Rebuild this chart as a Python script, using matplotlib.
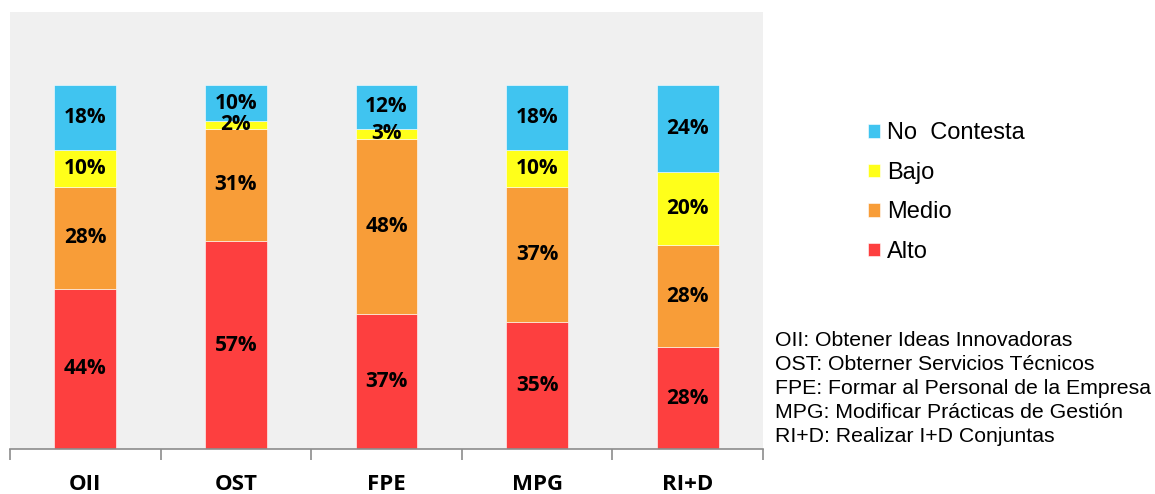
import matplotlib
matplotlib.use("Agg")
import matplotlib.pyplot as plt
import numpy as np

categories = ["OII", "OST", "FPE", "MPG", "RI+D"]
series_names = ["Alto", "Medio", "Bajo", "No  Contesta"]
alto = [44, 57, 37, 35, 28]
medio = [28, 31, 48, 37, 28]
bajo = [10, 2, 3, 10, 20]
no_contesta = [18, 10, 12, 18, 24]
colors = ["#FD3F3F", "#F89D38", "#FFFF1A", "#40C4F0"]

glossary = [
    "OII: Obtener Ideas Innovadoras",
    "OST: Obterner Servicios Técnicos",
    "FPE: Formar al Personal de la Empresa",
    "MPG: Modificar Prácticas de Gestión",
    "RI+D: Realizar I+D Conjuntas",
]

label_font = ["Open Sans", "DejaVu Sans"]
text_font = ["Liberation Sans", "DejaVu Sans"]

fig = plt.figure(figsize=(11.55, 4.94), dpi=100)
ax = fig.add_axes([10 / 1155, 1 - 449 / 494, 753 / 1155, 437 / 494])
ax.set_facecolor("#F0F0F0")

x = np.arange(len(categories))
width = 0.41
bottom = np.zeros(len(categories))
handles = []
for name, vals, col in zip(series_names, [alto, medio, bajo, no_contesta], colors):
    vals = np.array(vals, dtype=float)
    bars = ax.bar(x, vals, width, bottom=bottom, color=col,
                  edgecolor="#FFFFFF", linewidth=0.4, label=name, zorder=2)
    handles.append(bars)
    for xi, b, v in zip(x, bottom, vals):
        ax.text(xi, b + v / 2, f"{int(v)}%", ha="center", va="center",
                fontsize=15, fontweight="bold", family=label_font, zorder=3)
    bottom += vals

ax.set_xlim(-0.5, len(categories) - 0.5)
ax.set_ylim(0, 120)
ax.set_yticks([])
for s in ["top", "right", "left"]:
    ax.spines[s].set_visible(False)
ax.spines["bottom"].set_color("#8C8C8C")
ax.spines["bottom"].set_linewidth(1.2)

# category boundaries as tick marks, names centred under each bar
ax.set_xticks(np.arange(len(categories) + 1) - 0.5)
ax.set_xticklabels([])
ax.tick_params(axis="x", length=8, width=1.2, color="#8C8C8C", direction="out")
for xi, c in zip(x, categories):
    ax.text(xi, -0.082, c, transform=ax.get_xaxis_transform(), ha="center",
            va="center", fontsize=16, fontweight="bold", family=label_font)

leg = fig.legend(handles=handles[::-1], labels=series_names[::-1],
                 loc="upper left", bbox_to_anchor=(859 / 1155, 1 - 113 / 494),
                 frameon=False, prop={"family": text_font, "size": 17},
                 handlelength=0.5, handleheight=0.5, handletextpad=0.3,
                 labelspacing=0.74, borderaxespad=0)

y0 = 340
for i, line in enumerate(glossary):
    fig.text(775 / 1155, 1 - (y0 + i * 24) / 494, line, ha="left",
             va="center", fontsize=15.3, family=text_font)

fig.savefig("out.png", dpi=100)
